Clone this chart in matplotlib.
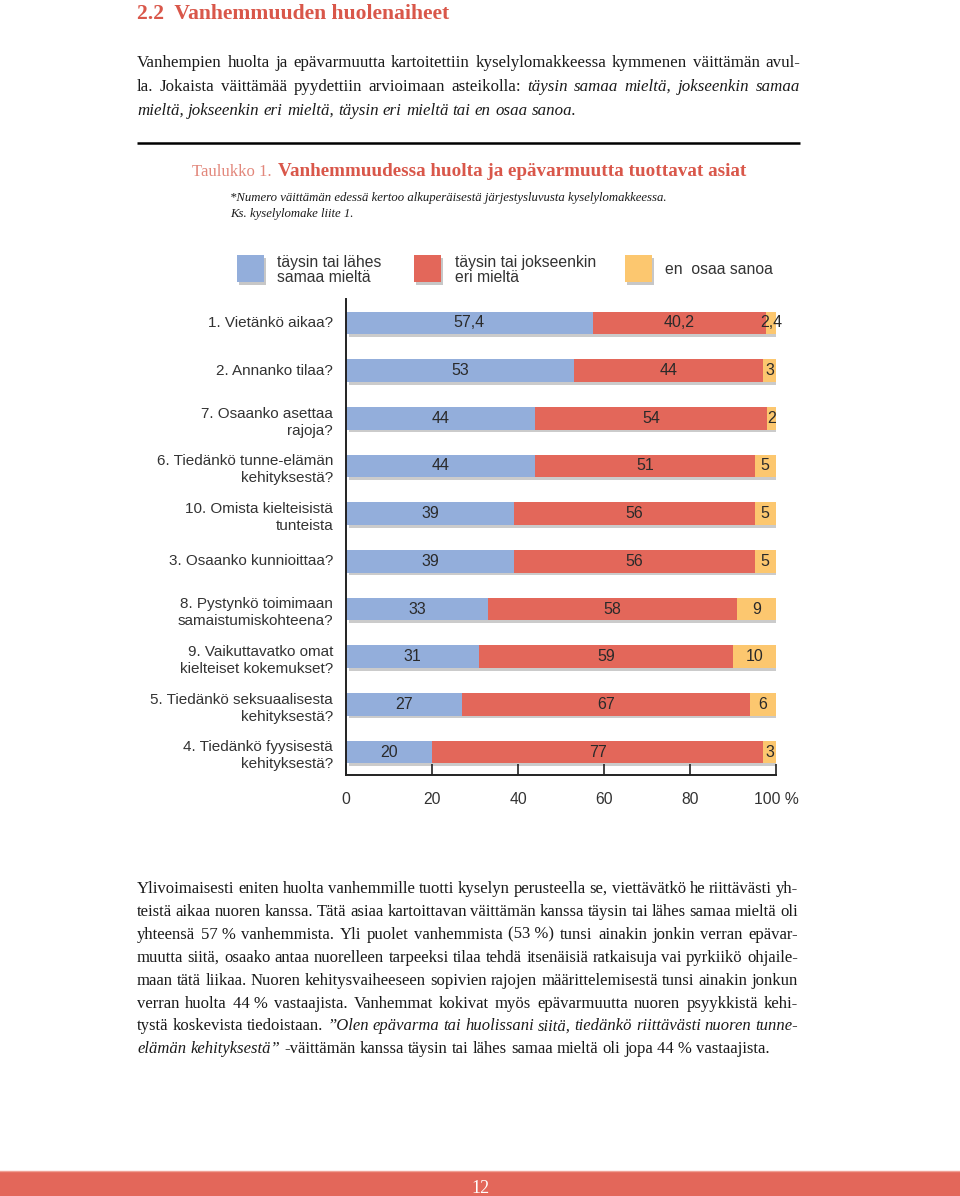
import matplotlib
matplotlib.use("Agg")
import matplotlib.pyplot as plt
from matplotlib.patches import Rectangle

W, H = 960, 1196
SERIF = "Liberation Serif"
SANS = "Liberation Sans"
RED_TITLE = "#d9574a"
BODY = "#1a1a1a"
C_AGREE = "#93aedb"
C_DISAGREE = "#e3675a"
C_DONTKNOW = "#fcc76f"

# ---- data ----
statements = [
    "1. Vietänkö aikaa?",
    "2. Annanko tilaa?",
    "7. Osaanko asettaa\nrajoja?",
    "6. Tiedänkö tunne-elämän\nkehityksestä?",
    "10. Omista kielteisistä\ntunteista",
    "3. Osaanko kunnioittaa?",
    "8. Pystynkö toimimaan\nsamaistumiskohteena?",
    "9. Vaikuttavatko omat\nkielteiset kokemukset?",
    "5. Tiedänkö seksuaalisesta\nkehityksestä?",
    "4. Tiedänkö fyysisestä\nkehityksestä?",
]
agree = [57.4, 53, 44, 44, 39, 39, 33, 31, 27, 20]
disagree = [40.2, 44, 54, 51, 56, 56, 58, 59, 67, 77]
dont_know = [2.4, 3, 2, 5, 5, 5, 9, 10, 6, 3]
legend_labels = ["täysin tai lähes\nsamaa mieltä", "täysin tai jokseenkin\neri mieltä", "en  osaa sanoa"]
x_ticks = [0, 20, 40, 60, 80, 100]
x_ticklabels = ["0", "20", "40", "60", "80", "100 %"]

intro_lines = [
    ([("Vanhempien huolta ja epävarmuutta kartoitettiin kyselylomakkeessa kymmenen väittämän avul-", "normal")], True),
    ([("la. Jokaista väittämää pyydettiin arvioimaan asteikolla:", "normal"),
      ("täysin samaa mieltä, jokseenkin samaa", "italic")], True),
    ([("mieltä, jokseenkin eri mieltä, täysin eri mieltä tai en osaa sanoa.", "italic")], False),
]
body_lines = [
    ([("Ylivoimaisesti eniten huolta vanhemmille tuotti kyselyn perusteella se, viettävätkö he riittävästi yh-", "normal")], True),
    ([("teistä aikaa nuoren kanssa. Tätä asiaa kartoittavan väittämän kanssa täysin tai lähes samaa mieltä oli", "normal")], True),
    ([("yhteensä 57\u00a0% vanhemmista. Yli puolet vanhemmista (53\u00a0%) tunsi ainakin jonkin verran epävar-", "normal")], True),
    ([("muutta siitä, osaako antaa nuorelleen tarpeeksi tilaa tehdä itsenäisiä ratkaisuja vai pyrkiikö ohjaile-", "normal")], True),
    ([("maan tätä liikaa. Nuoren kehitysvaiheeseen sopivien rajojen määrittelemisestä tunsi ainakin jonkun", "normal")], True),
    ([("verran huolta 44\u00a0% vastaajista. Vanhemmat kokivat myös epävarmuutta nuoren psyykkistä kehi-", "normal")], True),
    ([("tystä koskevista tiedoistaan.", "normal"),
      ("”Olen epävarma tai huolissani siitä, tiedänkö riittävästi nuoren tunne-", "italic")], True),
    ([("elämän kehityksestä”", "italic"),
      ("-väittämän kanssa täysin tai lähes samaa mieltä oli jopa 44\u00a0% vastaajista.", "normal")], False),
]

fig = plt.figure(figsize=(W / 100, H / 100), dpi=100)
fig.patch.set_facecolor("white")
page = fig.add_axes([0, 0, 1, 1])
page.set_xlim(0, W)
page.set_ylim(H, 0)
page.axis("off")
renderer = fig.canvas.get_renderer()


def text_line(segments, x0, x1, y, size, justify, color=BODY):
    words = [(w, st) for txt, st in segments for w in txt.split(" ") if w]
    while True:
        space = 0.25 * size * 100 / 72
        items = []
        for word, style in words:
            t = page.text(x0, y, word, fontsize=size, family=SERIF, style=style,
                          color=color, va="baseline", ha="left")
            items.append((t, t.get_window_extent(renderer).width))
        total = sum(w for _, w in items)
        gap = (x1 - x0 - total) / max(len(items) - 1, 1)
        if not justify or gap >= 0.75 * space or size < 10:
            break
        for t, _ in items:
            t.remove()
        size -= 0.1
    if not justify:
        gap = space
    x = x0
    for t, w in items:
        t.set_x(x)
        x += w + gap


# ---- page text ----
page.text(137, 19, "2.2  Vanhemmuuden huolenaiheet", fontsize=15.6, family=SERIF,
          weight="bold", color=RED_TITLE, va="baseline")
for i, (segs, just) in enumerate(intro_lines):
    text_line(segs, 137, 800, 67 + i * 24, 12.2, just)

page.plot([137, 800], [143, 143], color="black", lw=1.8, solid_capstyle="butt")
cap = page.text(192, 176, "Taulukko 1.", fontsize=12, family=SERIF, color="#e2877b",
                va="baseline")
cap_end = 192 + cap.get_window_extent(renderer).width
page.text(cap_end + 6, 176, "Vanhemmuudessa huolta ja epävarmuutta tuottavat asiat", fontsize=13.8,
          family=SERIF, weight="bold", color=RED_TITLE, va="baseline")
page.text(230, 201, "*Numero väittämän edessä kertoo alkuperäisestä järjestysluvusta kyselylomakkeessa.",
          fontsize=9.2, family=SERIF, style="italic", color=BODY, va="baseline")
page.text(230, 217, "Ks. kyselylomake liite 1.", fontsize=9.2, family=SERIF, style="italic",
          color=BODY, va="baseline")

for i, (segs, just) in enumerate(body_lines):
    text_line(segs, 137, 798, 893 + i * 22.9, 12.0, just)

# legend
for x_box, x_txt, col, lab in zip([237, 414, 625], [277, 455, 665],
                                  [C_AGREE, C_DISAGREE, C_DONTKNOW], legend_labels):
    page.add_patch(Rectangle((x_box + 2, 258), 27, 27, color="#9a9a9a", alpha=0.55, lw=0))
    page.add_patch(Rectangle((x_box, 255), 27, 27, color=col, lw=0))
    page.text(x_txt, 270, lab, fontsize=11.3, family=SANS, color="#333333", va="center",
              linespacing=1.0)

# footer
page.add_patch(Rectangle((0, 1171), W, 25, color=C_DISAGREE, lw=0))
page.plot([0, W], [1171, 1171], color="#f0a095", lw=1)
page.text(480, 1193, "12", fontsize=13, family=SERIF, color="white", ha="center", va="baseline")

# ---- chart ----
left, right, top, bottom = 346, 776, 299, 775
ax = fig.add_axes([left / W, 1 - bottom / H, (right - left) / W, (bottom - top) / H])
ax.patch.set_alpha(0)
n = len(statements)
ys = list(range(n))
bh = 0.47
ax.barh([y + 0.06 for y in ys], [100] * n, left=0.6, height=bh, color="#8c8c8c",
        alpha=0.45, lw=0, zorder=1)
ax.barh(ys, agree, height=bh, color=C_AGREE, lw=0, zorder=2)
ax.barh(ys, disagree, left=agree, height=bh, color=C_DISAGREE, lw=0, zorder=2)
starts = [a + d for a, d in zip(agree, disagree)]
ax.barh(ys, dont_know, left=starts, height=bh, color=C_DONTKNOW, lw=0, zorder=2)


def fmt(v):
    return f"{v:g}".replace(".", ",")


for y, a, d, k in zip(ys, agree, disagree, dont_know):
    for x0, v in [(0, a), (a, d), (a + d, k)]:
        ax.text(x0 + v / 2, y, fmt(v), ha="center", va="center", fontsize=11.5,
                family=SANS, color="#2a2a2a", zorder=3)

for y, lab in zip(ys, statements):
    off = 0.08 if "\n" in lab else 0
    ax.text(-3.0, y + off, lab, ha="right", va="center", fontsize=11, family=SANS,
            color="#333333", linespacing=1.25)

ax.set_xlim(0, 100)
ax.set_ylim(9.482, -0.503)
ax.set_yticks([])
ax.set_xticks(x_ticks)
ax.set_xticklabels(x_ticklabels, fontsize=11.3, family=SANS, color="#333333")
ax.tick_params(axis="x", direction="in", length=8, width=1.2, pad=12, color="#222222")
for s in ["top", "right"]:
    ax.spines[s].set_visible(False)
for s in ["left", "bottom"]:
    ax.spines[s].set_color("#222222")
    ax.spines[s].set_linewidth(1.4)

fig.savefig("out.png", dpi=100)
